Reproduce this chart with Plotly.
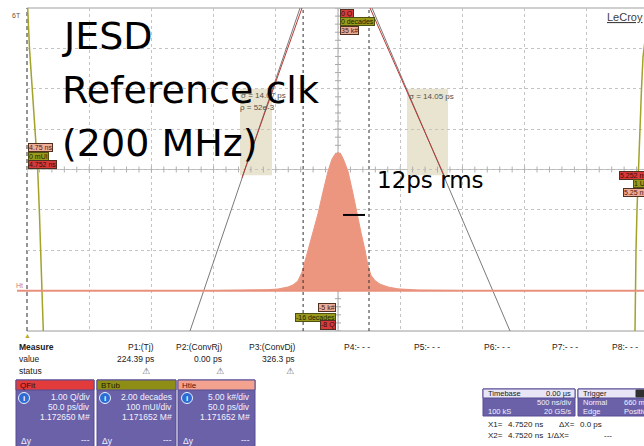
import plotly.graph_objects as go

# ---------------- data ----------------
# Htie: histogram of time-interval error (ns -> thousands of hits)
hist_time_ns = [4.9035, 4.9357, 4.9437, 4.9518, 4.9598, 4.9638, 4.9678, 4.9711, 4.9735,
                4.9759, 4.9799, 4.9839, 4.9879, 4.9920, 4.9952, 4.9976, 5.0000, 5.0024,
                5.0048, 5.0080, 5.0121, 5.0153, 5.0185, 5.0217, 5.0241, 5.0265, 5.0297,
                5.0338, 5.0402, 5.0482, 5.0563, 5.0643, 5.0965]
hist_count_k = [0.02, 0.05, 0.12, 0.2, 0.45, 0.7, 1.2, 2.3, 3.6,
                5.0, 7.2, 9.5, 12.2, 14.8, 16.3, 16.9, 17.1, 16.9,
                16.1, 14.8, 12.0, 9.5, 7.2, 5.0, 3.1, 1.9, 1.25,
                0.8, 0.45, 0.22, 0.12, 0.07, 0.02]

# QFit: Q-scale of the tails, with the straight-line fits
qfit_left_ns = [4.97145, 4.88303]
qfit_right_ns = [5.02933, 5.14026]
qfit_line_q = [0, -8]
qdata_left_ns = [4.97306, 4.96141, 4.94975, 4.93850, 4.92483]
qdata_right_ns = [5.02772, 5.04219, 5.05666, 5.07113, 5.08801]
qdata_q = [0, -1, -2, -3, -4.2]
fit_region_left_ns = [4.92322, 4.94895]
fit_region_right_ns = [5.05747, 5.09042]
fit_region_q = [-2.0, -4.14]

# BTub: bathtub curve (UI -> log10 BER)
btub_left_ui = [0.0, 0.0011, 0.0040, 0.0080, 0.0129, 0.0172, 0.0198, 0.0220, 0.0241, 0.0262]
btub_left_dec = [0, 0, -2, -4, -6, -8, -10, -12, -14, -16]
btub_right_ui = [1.0, 0.99357, 0.99035, 0.98794, 0.98553, 0.98232, 0.98071, 0.97910, 0.97830, 0.97749]
btub_right_dec = [0, -1.6, -2.43, -4, -6, -8, -10, -12, -14, -16]

# cursors and rms marker
cursor_ns = [4.97195, 5.02492]
rms_marker_ns = [5.00402, 5.02170]
rms_marker_k = 9.37

# ---------------- geometry of the screen ----------------
W, H = 644, 446
L, T, B = 27, 8, 331          # plot area edges in pixels
DIV_PX = 62.2                 # pixels per horizontal division
vis = (W - L) / (10 * DIV_PX)  # visible fraction of the 10 divisions

ht_range = [4.75, 4.75 + 0.5 * vis]
qf_range = [4.752, 4.752 + 0.5 * vis]
bt_range = [0.0, 1.0 * vis]


def px(xp):
    return (xp - L) / (W - L)


def py(yp):
    return (B - yp) / (B - T)


HIST = "#ec9680"
RED = "#b83a34"
OLIVE = "#a3a22a"
SALMON = "#e8907c"
PURPLE = "#6b61a9"
UI_FONT = "Liberation Sans"

fig = go.Figure()

fig.add_trace(go.Scatter(x=hist_time_ns, y=hist_count_k, mode="lines", fill="tozeroy",
                         fillcolor=HIST, line=dict(color=HIST, width=1),
                         xaxis="x", yaxis="y", hoverinfo="skip"))

for xs in (qfit_left_ns, qfit_right_ns):
    fig.add_trace(go.Scatter(x=xs, y=qfit_line_q, mode="lines",
                             line=dict(color="#7a7a7a", width=1),
                             xaxis="x2", yaxis="y2", hoverinfo="skip"))
for xs in (qdata_left_ns, qdata_right_ns):
    fig.add_trace(go.Scatter(x=xs, y=qdata_q, mode="lines",
                             line=dict(color=RED, width=1),
                             xaxis="x2", yaxis="y2", hoverinfo="skip"))

for xs, ys in ((btub_left_ui, btub_left_dec), (btub_right_ui, btub_right_dec)):
    fig.add_trace(go.Scatter(x=xs, y=ys, mode="lines",
                             line=dict(color=OLIVE, width=1.5),
                             xaxis="x3", yaxis="y3", hoverinfo="skip"))

shapes = []
# fit regions of the Q-scale
for xr in (fit_region_left_ns, fit_region_right_ns):
    shapes.append(dict(type="rect", xref="x2", yref="y2", x0=xr[0], x1=xr[1],
                       y0=fit_region_q[0], y1=fit_region_q[1],
                       fillcolor="#e9e4cf", line=dict(width=0), layer="below"))

# screen frame
shapes.append(dict(type="line", xref="paper", yref="paper", x0=0, x1=1.01, y0=1, y1=1,
                   line=dict(color="#cfcfcf", width=2), layer="between"))
shapes.append(dict(type="line", xref="paper", yref="paper", x0=0, x1=1.01, y0=0, y1=0,
                   line=dict(color="#bdbdbd", width=1.5), layer="between"))
shapes.append(dict(type="line", xref="paper", yref="paper", x0=0, x1=0, y0=0, y1=1,
                   line=dict(color="#505050", width=1.2, dash="4px,3px"), layer="between"))

# centre cross with minor ticks
shapes.append(dict(type="line", xref="x", yref="paper", x0=5.0, x1=5.0, y0=0, y1=1,
                   line=dict(color="#a8a8a8", width=1), layer="between"))
shapes.append(dict(type="line", xref="paper", yref="y", x0=0, x1=1.01, y0=15, y1=15,
                   line=dict(color="#b8b8b8", width=1), layer="between"))
for k in range(-5, 36):
    shapes.append(dict(type="line", xref="x", yref="y", xsizemode="pixel", xanchor=5.0,
                       x0=-3, x1=3, y0=k, y1=k, line=dict(color="#a8a8a8", width=1),
                       layer="between"))
for i in range(0, 50):
    t = 4.75 + 0.01 * i
    shapes.append(dict(type="line", xref="x", yref="y", ysizemode="pixel", yanchor=15,
                       x0=t, x1=t, y0=-3, y1=3, line=dict(color="#b0b0b0", width=1),
                       layer="between"))

# histogram reference level (Ht)
shapes.append(dict(type="line", xref="paper", yref="y", x0=px(17), x1=1.01, y0=0, y1=0,
                   line=dict(color=SALMON, width=2), layer="above"))

# cursors
for c in cursor_ns:
    shapes.append(dict(type="line", xref="x", yref="paper", x0=c, x1=c, y0=0, y1=1,
                       line=dict(color="#303030", width=1, dash="dot"), layer="above"))

# rms marker
shapes.append(dict(type="line", xref="x", yref="y", x0=rms_marker_ns[0], x1=rms_marker_ns[1],
                   y0=rms_marker_k, y1=rms_marker_k, line=dict(color="black", width=2),
                   layer="above"))

# ----- bottom panel boxes -----
def box(x0, x1, y0, y1, fill, line="#564c94"):
    shapes.append(dict(type="rect", xref="paper", yref="paper", x0=px(x0), x1=px(x1),
                       y0=py(y1), y1=py(y0), fillcolor=fill, line=dict(color=line, width=1),
                       layer="above"))


for (x0, x1, head) in ((16, 94, "#e23b3b"), (97, 176, "#8e8e16"), (178, 255, "#f2a28e")):
    box(x0, x1, 380, 452, PURPLE)
    box(x0, x1, 380, 390, head)
for (cx) in (24, 105, 187):
    shapes.append(dict(type="circle", xref="paper", yref="paper",
                       x0=px(cx - 5.5), x1=px(cx + 5.5), y0=py(403.5), y1=py(392.5),
                       fillcolor="#2d6cd2", line=dict(color="#e8f0ff", width=1), layer="above"))
box(483, 575, 389, 416, PURPLE)
box(483, 575, 389, 398, "#e8e6f6")
box(578, 650, 389, 416, PURPLE)
box(578, 650, 389, 398, "#e8e6f6")
box(636, 646, 390, 397, "#303030", line="#303030")

ann = []


def txt(x, y, s, size=8.5, color="#202020", anchor="left", family=UI_FONT, **kw):
    d = dict(x=px(x), y=py(y), xref="paper", yref="paper", text=s, showarrow=False,
             xanchor=anchor, yanchor="middle", font=dict(size=size, color=color, family=family))
    d.update(kw)
    ann.append(d)


def tag(x, y, s, bg, fg, anchor="left", border="#503020"):
    txt(x, y, s, size=7, color=fg, anchor=anchor, bgcolor=bg, bordercolor=border,
        borderwidth=1, borderpad=0)


# fit annotations
txt(239, 95, "σ = 14.07 ps", size=8, color="#505050")
txt(238, 107, "ρ = 52e-3", size=8, color="#505050")
txt(407, 96, "σ = 14.05 ps", size=8, color="#505050")

# trace range tags
tag(340, 14, "0 Q", "#d83a3a", "#3a0a0a")
tag(340, 22, "0 decades", "#9a9a1c", "#1e1e00", border="#505010")
tag(340, 30, "35 k#", "#f0ad98", "#4a1a10")
tag(336, 307, "-5 k#", "#f0ad98", "#4a1a10", anchor="right")
tag(336, 317, "-16 decades", "#9a9a1c", "#1e1e00", anchor="right", border="#505010")
tag(336, 325, "-8 Q", "#d83a3a", "#3a0a0a", anchor="right")
tag(28, 147, "4.75 ns", "#f0ad98", "#4a1a10")
tag(28, 156, "0 mUI", "#9a9a1c", "#1e1e00", border="#505010")
tag(28, 164, "4.752 ns", "#d83a3a", "#3a0a0a")
tag(648, 175, "5.252 ns", "#d83a3a", "#3a0a0a", anchor="right")
tag(648, 183, "1 UI", "#9a9a1c", "#1e1e00", anchor="right", border="#505010")
tag(648, 192, "5.25 ns", "#f0ad98", "#4a1a10", anchor="right")

txt(19, 285, "Ht", size=7, color="#d08070", anchor="center")
txt(16, 15, "6T", size=7, color="#705030", anchor="center")
txt(27, 335, "▲", size=7, color="#c0a828", anchor="center")
txt(605, 17, "<u>LeCroy</u>", size=11, color="#404040")

# titles written on the screen
BIG = "DejaVu Sans"
txt(60, 36, "JESD", size=38, color="black", family=BIG)
txt(60, 90, "Reference clk", size=38, color="black", family=BIG)
txt(60, 143, "(200 MHz)", size=38, color="black", family=BIG)
txt(375, 180, "12ps rms", size=23, color="black", family=BIG)

# measure table
txt(17, 347, "<b>Measure</b>", size=8.5)
txt(17, 359, "value")
txt(17, 371, "status")
for r, head, val, icon in ((156, "P1:(Tj)", "224.39 ps", 146),
                           (224, "P2:(ConvRj)", "0.00 ps", 220),
                           (297, "P3:(ConvDj)", "326.3 ps", 290)):
    txt(r, 347, head, anchor="right")
    txt(r, 359, val, anchor="right")
    txt(icon, 371, "⚠", size=9, color="#606060", anchor="center", family="DejaVu Sans")
for lx, head in ((342, "P4:- - -"), (412, "P5:- - -"), (482, "P6:- - -"),
                 (550, "P7:- - -"), (610, "P8:- - -")):
    txt(lx, 347, head)

# channel descriptor boxes
LIGHT = "#f2f2ff"
for x0, name, hc, right, rows in ((18, "QFit", "#3a0a0a", 92, ("1.00 Q/div", "50.0 ps/div", "1.172650 M#")),
                                  (99, "BTub", "#1e1e00", 174, ("2.00 decades", "100 mUI/div", "1.171652 M#")),
                                  (180, "Htie", "#4a1a10", 252, ("5.00 k#/div", "50.0 ps/div", "1.171652 M#"))):
    txt(x0, 385, name, size=8, color=hc)
    for j, s in enumerate(rows):
        txt(right, 397 + 10 * j, s, color=LIGHT, anchor="right")
    txt(x0 + 1, 441, "Δy", color=LIGHT)
    txt(right, 440, "---", color=LIGHT, anchor="right")
for cx in (24, 105, 187):
    txt(cx, 398, "<b>i</b>", size=8, color="white", anchor="center")

# timebase / trigger
S = 7.5
txt(486, 393.5, "Timebase", size=S)
txt(573, 393.5, "0.00 µs", size=S, anchor="right")
txt(573, 402.5, "500 ns/div", size=S, color=LIGHT, anchor="right")
txt(486, 411, "100 kS", size=S, color=LIGHT)
txt(573, 411, "20 GS/s", size=S, color=LIGHT, anchor="right")
txt(581, 393.5, "Trigger", size=S)
txt(581, 402.5, "Normal", size=S, color=LIGHT)
txt(622, 402.5, "660 mV", size=S, color=LIGHT)
txt(581, 411, "Edge", size=S, color=LIGHT)
txt(622, 411, "Positive", size=S, color=LIGHT)

X = 8
txt(486, 424, "X1=", size=X)
txt(506, 424, "4.7520 ns", size=X)
txt(557, 424, "ΔX=", size=X)
txt(578, 424, "0.0 ps", size=X)
txt(486, 435, "X2=", size=X)
txt(506, 435, "4.7520 ns", size=X)
txt(545, 435, "1/ΔX=", size=X)
txt(602, 435, "---", size=X)

grid = dict(showgrid=True, gridcolor="#c4c4c4", griddash="dot", gridwidth=1,
            zeroline=False, showticklabels=False, ticks="", showline=False)

fig.update_layout(
    width=W, height=H,
    margin=dict(l=L, r=0, t=T, b=H - B, pad=0),
    paper_bgcolor="white", plot_bgcolor="white",
    showlegend=False,
    xaxis=dict(range=ht_range, tick0=4.75, dtick=0.05, **grid),
    yaxis=dict(range=[-5, 35], tick0=-5, dtick=5, **grid),
    xaxis2=dict(range=qf_range, overlaying="x", anchor="y", visible=False),
    yaxis2=dict(range=[-8, 0], overlaying="y", anchor="x", visible=False),
    xaxis3=dict(range=bt_range, overlaying="x", anchor="y", visible=False),
    yaxis3=dict(range=[-16, 0], overlaying="y", anchor="x", visible=False),
    shapes=shapes,
    annotations=ann,
)

fig.write_html("out.html")
